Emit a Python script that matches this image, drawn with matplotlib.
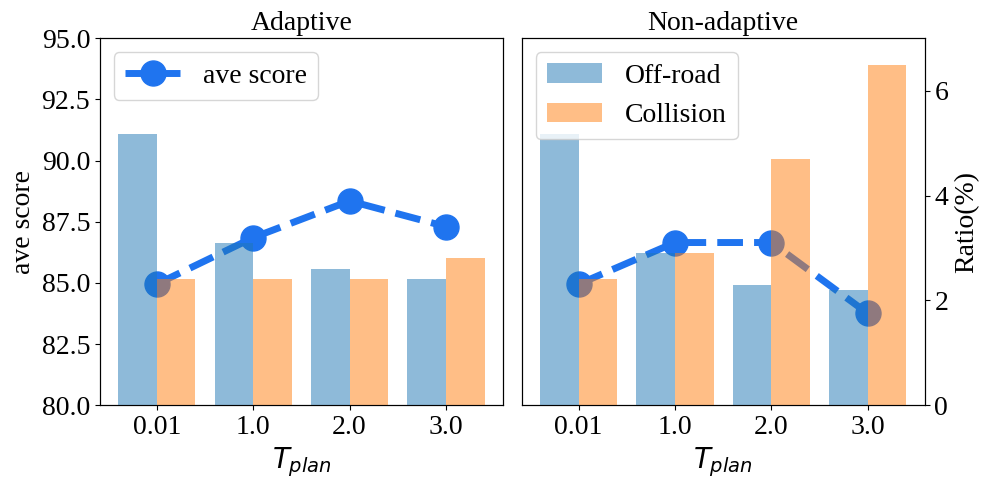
import matplotlib
matplotlib.use("Agg")
import matplotlib.pyplot as plt
import numpy as np

plt.rcParams["font.family"] = ["Liberation Serif", "DejaVu Serif"]
plt.rcParams["mathtext.fontset"] = "dejavusans"

t_plan = ["0.01", "1.0", "2.0", "3.0"]

# adaptive
ada_score = [84.95, 86.85, 88.35, 87.3]
ada_offroad = [5.18, 3.09, 2.59, 2.40]
ada_collision = [2.40, 2.40, 2.40, 2.80]

# non-adaptive
non_score = [84.95, 86.65, 86.65, 83.75]
non_offroad = [5.18, 2.90, 2.29, 2.19]
non_collision = [2.40, 2.90, 4.69, 6.48]

LINE_C = "#1f74ef"
FS = 20

fig, axes = plt.subplots(1, 2, figsize=(9.89, 4.9), dpi=100)
fig.subplots_adjust(left=0.101, right=0.935, top=0.922, bottom=0.173, wspace=0.047)

x = np.arange(len(t_plan))
w = 0.4

panels = [
    ("Adaptive", ada_score, ada_offroad, ada_collision),
    ("Non-adaptive", non_score, non_offroad, non_collision),
]

for i, (title, score, offroad, collision) in enumerate(panels):
    ax = axes[i]
    ax.plot(x, score, "--o", color=LINE_C, lw=5, markersize=18, label="ave score")
    ax.set_ylim(80, 95)
    ax.set_title(title, fontsize=FS)
    ax.set_xticks(x)
    ax.set_xticklabels(t_plan)
    ax.set_xlabel("$T_{plan}$", fontsize=FS)
    ax.tick_params(labelsize=FS)

    ax2 = ax.twinx()
    ax2.bar(x - w / 2, offroad, w, color="#1f77b4", alpha=0.5, label="Off-road")
    ax2.bar(x + w / 2, collision, w, color="#ff7f0e", alpha=0.5, label="Collision")
    ax2.set_ylim(0, 7)
    ax2.tick_params(labelsize=FS)

    if i == 0:
        ax.set_ylabel("ave score", fontsize=FS)
        ax.legend(loc="upper left", fontsize=FS)
        ax2.set_yticks([])
    else:
        ax.set_yticks([])
        ax2.set_yticks([0, 2, 4, 6])
        ax2.set_ylabel("Ratio(%)", fontsize=FS)
        ax2.legend(loc="upper left", fontsize=FS)

plt.savefig("out.png", dpi=100)
